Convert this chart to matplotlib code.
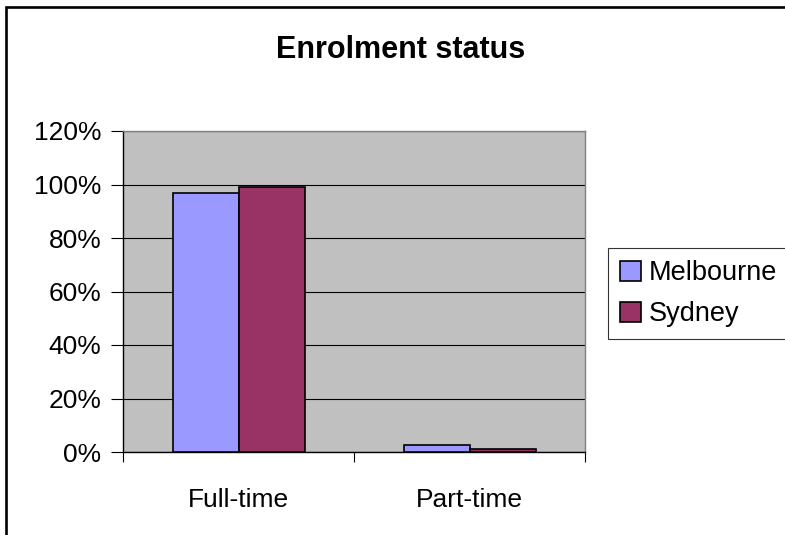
import matplotlib
matplotlib.use("Agg")
import matplotlib.pyplot as plt
from matplotlib.patches import Rectangle
from matplotlib.ticker import FixedLocator, FuncFormatter
import numpy as np

categories = ["Full-time", "Part-time"]
series_names = ["Melbourne", "Sydney"]
melbourne = [97.0, 2.6]
sydney = [99.0, 1.0]
y_ticks = [0, 20, 40, 60, 80, 100, 120]

colors = ["#9999FF", "#993366"]

plt.rcParams["font.family"] = ["Liberation Sans", "DejaVu Sans"]

W, H = 785, 535
fig = plt.figure(figsize=(W / 100, H / 100), dpi=100)
fig.patch.set_facecolor("white")

# outer chart border (extends past right and bottom edges)
fig.patches.append(Rectangle((6 / W, -0.2), 1.2, 1.2 - 7 / H,
                             transform=fig.transFigure, fill=False,
                             edgecolor="black", linewidth=1.9, zorder=0))

ax = fig.add_axes([123 / W, 1 - 452 / H, (585 - 123) / W, (452 - 131) / H])
ax.set_facecolor("#C0C0C0")

x = np.arange(len(categories))
bw = 1 / 1.75 / 2
for i, (vals, name) in enumerate(zip([melbourne, sydney], series_names)):
    ax.bar(x + (i - 0.5) * bw, vals, width=bw, color=colors[i],
           edgecolor="black", linewidth=1.2, label=name, zorder=3)

ax.set_xlim(-0.5, len(categories) - 0.5)
ax.set_ylim(0, 120)
ax.set_yticks(y_ticks)
ax.yaxis.set_major_formatter(FuncFormatter(lambda v, p: f"{v:.0f}%"))
ax.yaxis.grid(True, color="black", linewidth=0.8, zorder=1)
ax.set_axisbelow(True)
ax.tick_params(axis="y", direction="out", length=8.5, width=0.8, pad=7,
               labelsize=19)

ax.set_xticks(x)
ax.set_xticklabels(categories)
ax.xaxis.set_minor_locator(FixedLocator(np.arange(len(categories) + 1) - 0.5))
ax.tick_params(axis="x", which="major", length=0, pad=26, labelsize=19)
ax.tick_params(axis="x", which="minor", direction="out", length=7, width=0.8)

for side in ("left", "bottom"):
    ax.spines[side].set_color("black")
    ax.spines[side].set_linewidth(1.0)
for side in ("top", "right"):
    ax.spines[side].set_color("#808080")
    ax.spines[side].set_linewidth(1.0)

fig.text(401 / W, 1 - 50 / H, "Enrolment status", ha="center", va="center",
         fontsize=22, fontweight="bold")

leg = fig.legend(loc="upper left", bbox_to_anchor=(608 / W, 1 - 248 / H),
                 fontsize=19.5, frameon=True, fancybox=False, edgecolor="black",
                 handlelength=0.75, handleheight=0.75, handletextpad=0.3,
                 labelspacing=0.55, borderpad=0.45, borderaxespad=0)
leg.get_frame().set_linewidth(0.8)

fig.savefig("out.png", dpi=100)
